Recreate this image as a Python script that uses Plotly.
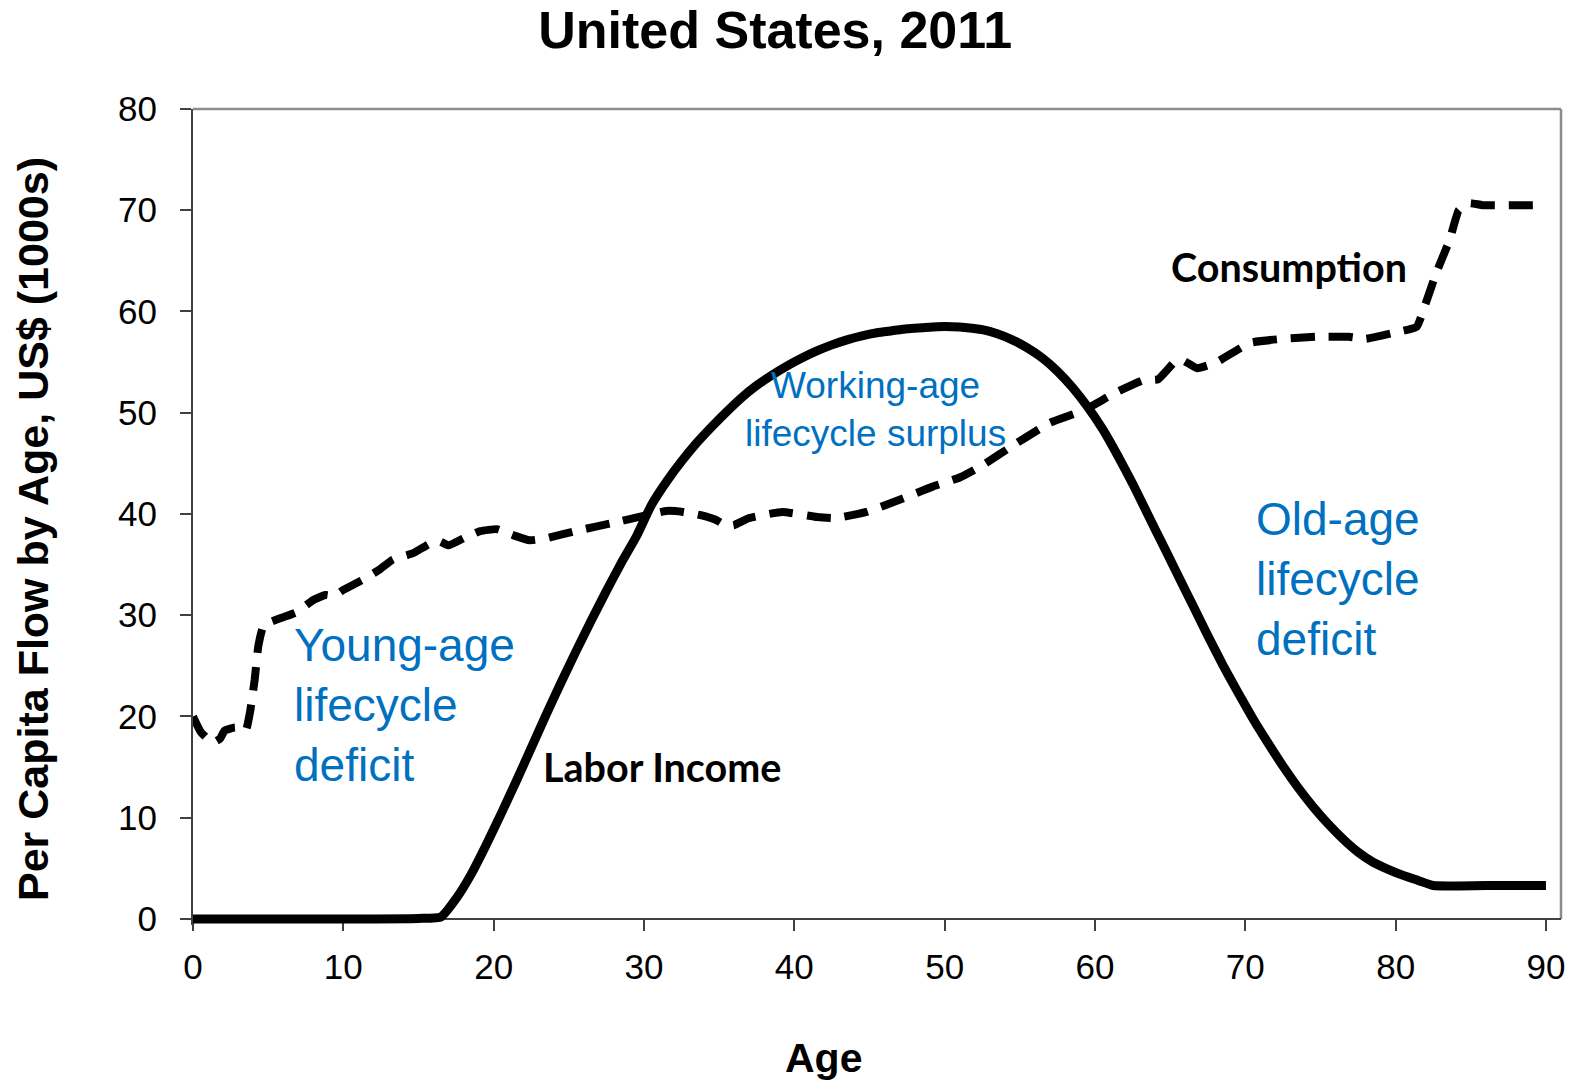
import plotly.graph_objects as go

# ---- data ----
labor_age = [0, 5, 10, 15, 16.5, 17.5, 18.5, 19.5, 20.5, 21.5, 22.5, 23.5, 24.5, 25.5, 26.5, 27.5,
             28.5, 29.5, 30.5, 31.5, 32.5, 33.5, 34.5, 35.5, 36.5, 37.5, 38.5, 39.5, 40.5, 41.5,
             42.5, 43.5, 44.5, 45.5, 46.5, 47.5, 48.5, 49.5, 50.5, 51.5, 52.5, 53.5, 54.5, 55.5,
             56.5, 57.5, 58.5, 59.5, 60.5, 61.5, 62.5, 63.5, 64.5, 65.5, 66.5, 67.5, 68.5, 69.5,
             70.5, 71.5, 72.5, 73.5, 74.5, 75.5, 76.5, 77.5, 78.5, 79.5, 80.5, 81.5, 82.5, 86, 90]
labor_income = [0.0, 0.0, 0.0, 0.05, 0.2, 2.0, 4.4, 7.3, 10.4, 13.6, 16.9, 20.2, 23.4, 26.5, 29.5, 32.4,
                35.2, 37.8, 40.9, 43.2, 45.2, 47.0, 48.6, 50.1, 51.5, 52.7, 53.7, 54.6, 55.4, 56.1,
                56.7, 57.2, 57.6, 57.9, 58.1, 58.3, 58.4, 58.5, 58.5, 58.4, 58.2, 57.8, 57.2, 56.4,
                55.4, 54.1, 52.5, 50.6, 48.4, 45.8, 43.0, 40.0, 37.0, 34.0, 31.0, 28.0, 25.1, 22.4,
                19.8, 17.4, 15.1, 13.0, 11.1, 9.4, 7.9, 6.6, 5.6, 4.9, 4.3, 3.8, 3.3, 3.3, 3.3]

cons_age = [0, 0.5, 1.3, 1.8, 2.1, 2.8, 3.5, 3.8, 4.1, 4.35, 4.7, 5.8, 6.9, 8.0, 8.8, 9.4, 10,
            11.3, 12.4, 13.3, 14.6, 15.8, 16.4, 17.0, 18.0, 19.1, 20.2, 21.3, 22.4, 23.5, 25.7,
            27.9, 30.2, 31.5, 32.6, 33.7, 34.8, 35.5, 36.0, 37.0, 39.2, 41.5, 42.8, 44.8, 47.0,
            49.2, 51.0, 52.5, 54.8, 57.0, 59.2, 61.4, 63.2, 64.2, 65.3, 65.8, 66.8, 68.1, 70.3,
            72.5, 74.7, 76.9, 78.0, 80.2, 81.4, 82.0, 82.7, 83.6, 84.2, 84.9, 85.8, 90]
consumption = [20.0, 18.5, 17.4, 17.8, 18.6, 18.9, 18.6, 20.5, 23.6, 27.0, 29.0, 29.7, 30.3, 31.5, 32.0, 31.9, 32.5,
               33.5, 34.5, 35.5, 36.1, 37.1, 37.3, 36.9, 37.6, 38.3, 38.5, 37.9, 37.4, 37.6, 38.4,
               39.1, 39.9, 40.3, 40.2, 39.9, 39.4, 38.8, 38.9, 39.6, 40.2, 39.7, 39.6, 40.2, 41.4,
               42.7, 43.6, 44.8, 47.0, 49.0, 50.2, 52.0, 53.2, 53.3, 55.0, 55.2, 54.4, 55.0, 56.9,
               57.3, 57.5, 57.5, 57.3, 58.0, 58.5, 60.8, 63.8, 67.1, 70.0, 70.7, 70.5, 70.5]

x_ticks = [0, 10, 20, 30, 40, 50, 60, 70, 80, 90]
y_ticks = [0, 10, 20, 30, 40, 50, 60, 70, 80]

title_text = "United States, 2011"
x_title = "Age"
y_title = "Per Capita Flow by Age, US$ (1000s)"

BLUE = "#0070C0"
AX = "#404040"

Y_LO = -0.6   # a little room below zero so the thick line at 0 is not clipped
Y_HI = 80

fig = go.Figure()
fig.add_trace(go.Scatter(x=labor_age, y=labor_income, mode="lines", name="Labor Income",
                         line=dict(color="black", width=9, shape="spline", smoothing=0.5),
                         cliponaxis=False, showlegend=False))
fig.add_trace(go.Scatter(x=cons_age, y=consumption, mode="lines", name="Consumption",
                         line=dict(color="black", width=8, dash="24px,14px", shape="spline", smoothing=0.4),
                         cliponaxis=False, showlegend=False))

fig.update_layout(
    width=1587, height=1080,
    margin=dict(l=193, r=26, t=109, b=155),
    plot_bgcolor="white", paper_bgcolor="white",
    font=dict(family="Liberation Sans, Arial, sans-serif", color="black"),
    title=dict(text="<b>%s</b>" % title_text, x=0.4885, xanchor="center", y=0.972, yanchor="middle",
               font=dict(size=52, family="Liberation Sans, Arial, sans-serif", color="black")),
)

zero_pos = (0 - Y_LO) / (Y_HI - Y_LO)
fig.update_xaxes(range=[0, 91], tickvals=x_ticks, ticks="outside", ticklen=11, tickwidth=1.5,
                 tickcolor=AX, showline=True, linecolor=AX, linewidth=2, showgrid=False,
                 zeroline=False, tickfont=dict(size=35), ticklabelstandoff=6, layer="below traces",
                 anchor="free", position=zero_pos)
fig.update_yaxes(range=[Y_LO, Y_HI], tickvals=y_ticks, ticks="outside", ticklen=11, tickwidth=1.5,
                 tickcolor=AX, showline=True, linecolor=AX, linewidth=2, showgrid=False,
                 zeroline=False, tickfont=dict(size=35), ticklabelstandoff=16, layer="below traces")

# top and right frame (lighter grey)
fig.add_shape(type="line", xref="paper", yref="paper", x0=0, x1=1, y0=1, y1=1,
              line=dict(color="#8c8c8c", width=2.5), layer="below")
fig.add_shape(type="line", xref="paper", yref="y", x0=1, x1=1, y0=0, y1=Y_HI,
              line=dict(color="#8c8c8c", width=2.5), layer="below")

# axis titles
PH = 1080 - 109 - 155
fig.add_annotation(text="<b>%s</b>" % x_title, xref="paper", yref="paper", x=(823 - 193) / 1368,
                   y=-(1058 - 925) / PH, xanchor="center", yanchor="middle", showarrow=False, font=dict(size=41))
fig.add_annotation(text="<b>%s</b>" % y_title, xref="paper", yref="paper", x=-(193 - 33) / 1368,
                   y=(925 - 529) / PH, xanchor="center", yanchor="middle", textangle=-90, showarrow=False,
                   font=dict(size=43))

# curve labels
lab_font = dict(family="Lato, Carlito, Calibri, sans-serif", size=39.5, color="black")
fig.add_annotation(text="<b>Consumption</b>", x=72.9, y=64.4, xanchor="center", yanchor="middle",
                   showarrow=False, font=lab_font)
fig.add_annotation(text="<b>Labor Income</b>", x=31.2, y=15.1, xanchor="center", yanchor="middle",
                   showarrow=False, font=lab_font)

# region labels
fig.add_annotation(text="Young-age<br>lifecycle<br>deficit", x=6.6, y=21.1, xanchor="left", yanchor="middle",
                   align="left", showarrow=False, font=dict(size=46, color=BLUE))
fig.add_annotation(text="Old-age<br>lifecycle<br>deficit", x=70.55, y=33.6, xanchor="left", yanchor="middle",
                   align="left", showarrow=False, font=dict(size=46, color=BLUE))
fig.add_annotation(text="Working-age<br>lifecycle surplus", x=45.4, y=50.3, xanchor="center", yanchor="middle",
                   align="center", showarrow=False, font=dict(size=37, color=BLUE))

fig.write_html("out.html")
